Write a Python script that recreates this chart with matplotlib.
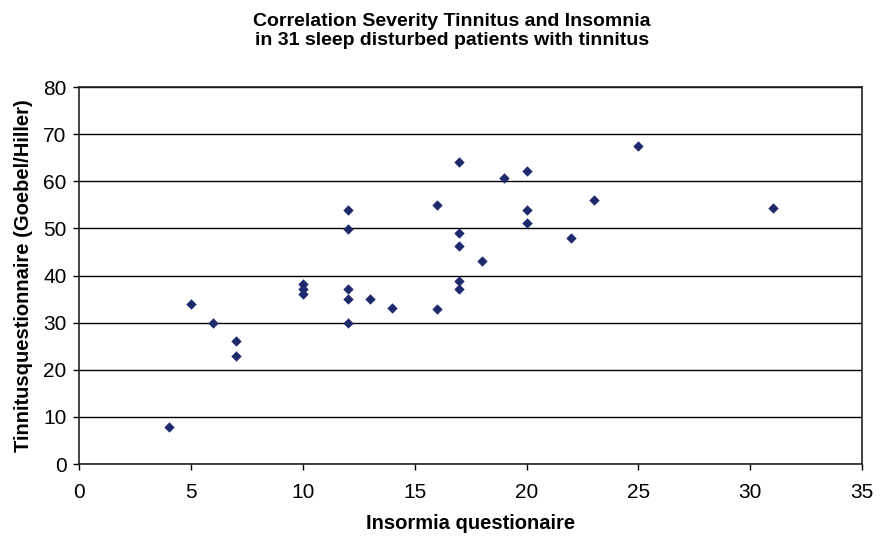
import numpy as np
import matplotlib
matplotlib.use("Agg")
import matplotlib.pyplot as plt

# insomnia score vs tinnitus score
insomnia = [4, 5, 6, 7, 7, 10, 10, 10, 12, 12, 12, 12, 12, 13, 14, 16, 16,
            17, 17, 17, 17, 17, 18, 19, 20, 20, 20, 22, 23, 25, 31]
tinnitus = [7.9, 33.9, 30.0, 26.1, 22.9, 38.2, 37.2, 36.0, 54.0, 49.9, 37.2, 35.0, 29.9,
            35.1, 33.1, 54.9, 32.8, 64.1, 49.0, 46.2, 38.9, 37.2, 43.0, 60.8, 62.1,
            54.0, 51.1, 48.0, 56.0, 67.4, 54.3]
xticks = [0, 5, 10, 15, 20, 25, 30, 35]
yticks = [0, 10, 20, 30, 40, 50, 60, 70, 80]

plt.rcParams['font.family'] = ['Liberation Sans', 'DejaVu Sans']

fig = plt.figure(figsize=(8.86, 5.40), dpi=100)
ax = fig.add_axes([0.0892, 0.1407, 0.884, 0.698])

ax.scatter(insomnia, tinnitus, marker='D', s=28, color='#1f2a6e', zorder=3, linewidths=0)

ax.set_xlim(0, 35)
ax.set_ylim(0, 80)
ax.set_xticks(xticks)
ax.set_yticks(yticks)
ax.yaxis.grid(True, color='black', linewidth=1.0)
ax.set_axisbelow(True)
ax.tick_params(axis='both', labelsize=15, direction='out', length=4, width=1)
ax.tick_params(axis='x', pad=10)
ax.tick_params(axis='y', pad=5)
for s in ax.spines.values():
    s.set_color('#222222')
    s.set_linewidth(1.2)

ax.set_xlabel('Insormia questionaire', fontsize=14.5, fontweight='bold', labelpad=8)
ax.set_ylabel('Tinnitusquestionnaire (Goebel/Hiller)', fontsize=14.5, fontweight='bold', labelpad=7)
fig.text(0.51, 0.975, 'Correlation Severity Tinnitus and Insomnia\nin 31 sleep disturbed patients with tinnitus',
         ha='center', va='top', fontsize=14, fontweight='bold', linespacing=1.15)

fig.savefig('out.png', dpi=100)
